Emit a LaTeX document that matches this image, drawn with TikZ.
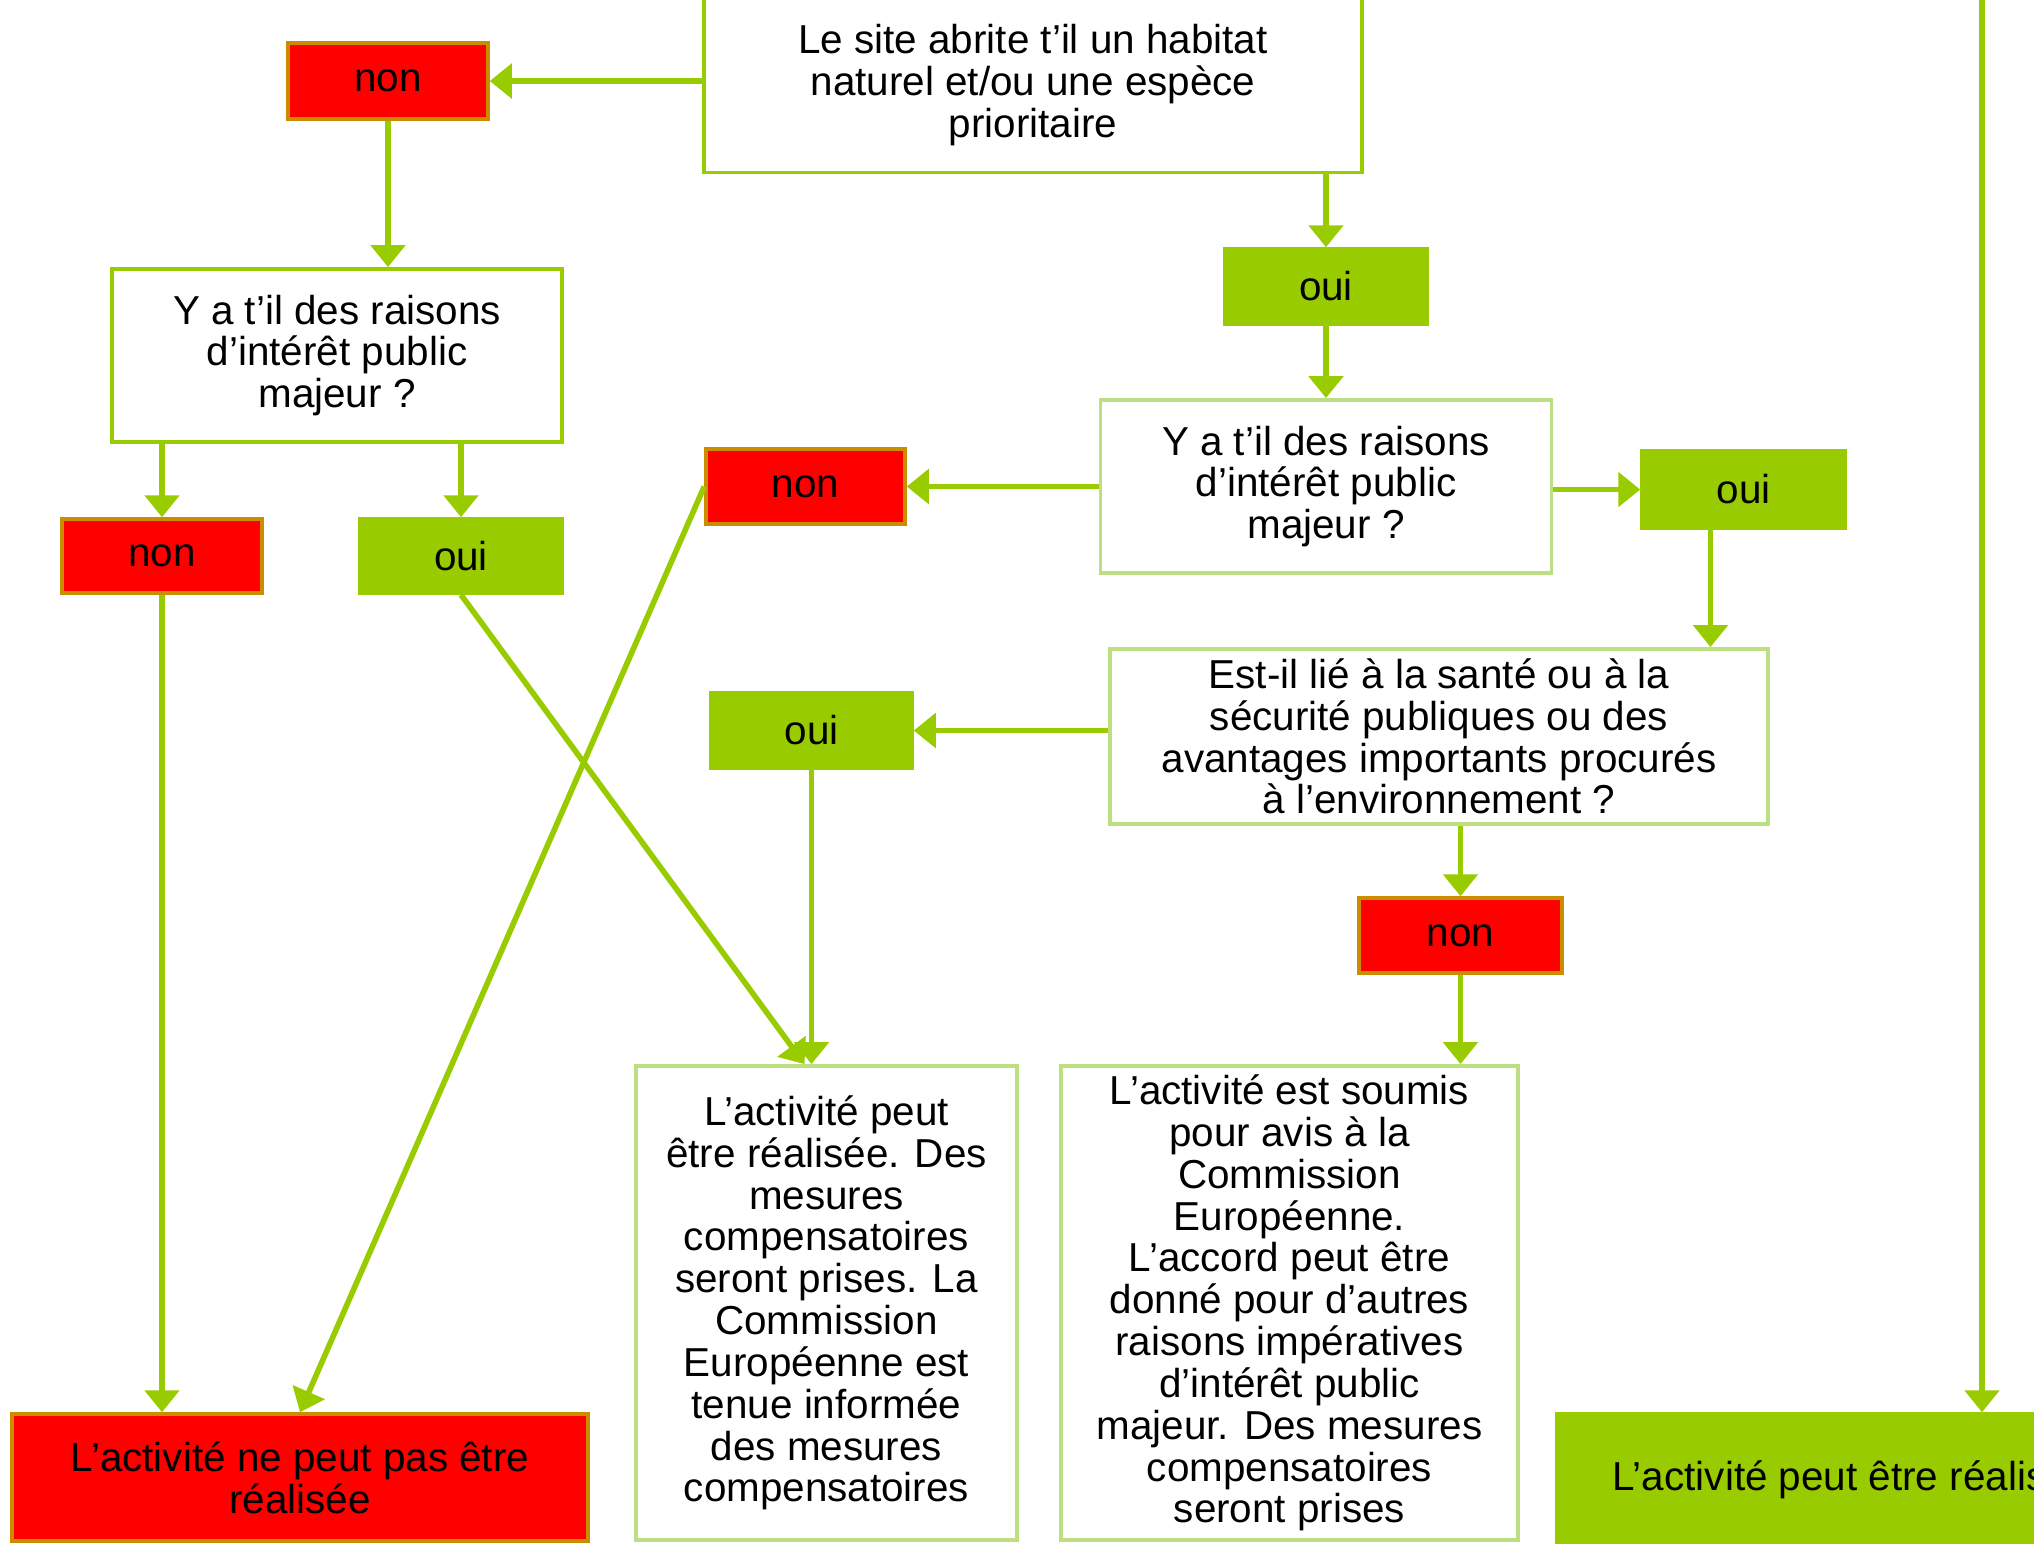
\documentclass[tikz,border=0pt]{standalone}
\usepackage{fontspec}
\setmainfont{Liberation Sans}
\usetikzlibrary{arrows.meta}
\definecolor{vert}{RGB}{153,204,0}
\definecolor{vertclair}{RGB}{190,222,130}
\definecolor{rouge}{RGB}{255,0,0}
\definecolor{orangebord}{RGB}{204,140,0}

\begin{document}
\begin{tikzpicture}[
        % Styles généraux
        texte/.style={font=\fontsize{11.5}{11.9}\selectfont, align=center, inner sep=0pt},
        question/.style={texte, draw=vert, line width=1.1pt, fill=white},
        questionclair/.style={question, draw=vertclair},
        reponseoui/.style={texte, fill=vert, draw=vert, line width=1pt},
        reponsenon/.style={texte, fill=rouge, draw=orangebord, line width=1pt},
        fleche/.style={draw=vert, line width=1.6pt, -{Triangle[length=0.22cm,width=0.34cm]}}
    ]

    \useasboundingbox (0,0) rectangle (20.34,-15.43);
    \clip (0,0) rectangle (20.34,-15.43);

    % 1. Question de départ
    \node[question, minimum width=6.58cm, minimum height=1.75cm] (site) at (10.33,-0.85) {Le site abrite t’il un habitat\\naturel et/ou une espèce\\prioritaire};
    \node[reponsenon, minimum width=2.0cm, minimum height=0.76cm] (nonSite) at (3.88,-0.81) {non};
    \node[reponseoui, minimum width=2.03cm, minimum height=0.75cm] (ouiSite) at (13.26,-2.865) {oui};

    % 2. Branche de gauche (pas d'espèce prioritaire)
    \node[question, minimum width=4.50cm, minimum height=1.73cm] (raisonsG) at (3.37,-3.555) {Y a t’il des raisons\\d’intérêt public\\majeur ?};
    \node[reponsenon, minimum width=2.0cm, minimum height=0.74cm] (nonG) at (1.62,-5.56) {non};
    \node[reponseoui, minimum width=2.02cm, minimum height=0.74cm] (ouiG) at (4.61,-5.56) {oui};

    % 3. Branche de droite (espèce prioritaire)
    \node[questionclair, minimum width=4.51cm, minimum height=1.73cm] (raisonsD) at (13.26,-4.865) {Y a t’il des raisons\\d’intérêt public\\majeur ?};
    \node[reponsenon, minimum width=1.99cm, minimum height=0.75cm] (nonRaisons) at (8.055,-4.865) {non};
    \node[reponseoui, minimum width=2.03cm, minimum height=0.77cm] (ouiRaisons) at (17.435,-4.895) {oui};
    \node[questionclair, minimum width=6.58cm, minimum height=1.75cm] (sante) at (14.39,-7.365) {Est-il lié à la santé ou à la\\sécurité publiques ou des\\avantages importants procurés\\à l’environnement ?};
    \node[reponseoui, minimum width=2.01cm, minimum height=0.75cm] (ouiSante) at (8.115,-7.305) {oui};
    \node[reponsenon, minimum width=2.03cm, minimum height=0.75cm] (nonSante) at (14.605,-9.355) {non};

    % 4. Conclusions
    \node[questionclair, minimum width=3.81cm, minimum height=4.74cm] (compens) at (8.265,-13.03) {L’activité peut\\être réalisée. Des\\mesures\\compensatoires\\seront prises. La\\Commission\\Européenne est\\tenue informée\\des mesures\\compensatoires};
    \node[questionclair, minimum width=4.57cm, minimum height=4.74cm] (avis) at (12.895,-13.03) {L’activité est soumis\\pour avis à la\\Commission\\Européenne.\\L’accord peut être\\donné pour d’autres\\raisons impératives\\d’intérêt public\\majeur. Des mesures\\compensatoires\\seront prises};
    \node[reponsenon, minimum width=5.76cm, minimum height=1.27cm] (refus) at (3.00,-14.775) {L’activité ne peut pas être\\réalisée};
    \node[reponseoui, minimum width=5.90cm, minimum height=1.32cm] (accord) at (18.52,-14.80) {L’activité peut être réalisée};
    \coordinate (haut) at (19.82,0.2);

    % 5. Flèches
    \draw[fleche] (site.west |- nonSite) -- (nonSite.east);
    \draw[fleche] (nonSite.south) -- (nonSite.south |- raisonsG.north);
    \draw[fleche] (site.south -| ouiSite) -- (ouiSite.north);
    \draw[fleche] (ouiSite.south) -- (raisonsD.north);
    \draw[fleche] (raisonsD.west) -- (nonRaisons.east);
    \draw[fleche] (raisonsD.east |- ouiRaisons) -- (ouiRaisons.west);
    \draw[fleche] ([xshift=-0.33cm]ouiRaisons.south) -- ([xshift=-0.33cm]ouiRaisons.south |- sante.north);
    \draw[fleche] (sante.west |- ouiSante) -- (ouiSante.east);
    \draw[fleche] (sante.south -| nonSante) -- (nonSante.north);
    \draw[fleche] (nonSante.south) -- (nonSante.south |- avis.north);
    \draw[fleche] (ouiSante.south) -- (ouiSante.south |- compens.north);
    \draw[fleche] (raisonsG.south -| nonG) -- (nonG.north);
    \draw[fleche] (raisonsG.south -| ouiG) -- (ouiG.north);
    \draw[fleche] (nonG.south) -- (nonG.south |- refus.north);
    \draw[fleche] (ouiG.south) -- ([xshift=-0.22cm]compens.north);
    \draw[fleche] (nonRaisons.west) -- (refus.north);
    \draw[fleche] (haut) -- (haut |- accord.north);

\end{tikzpicture}
\end{document}
